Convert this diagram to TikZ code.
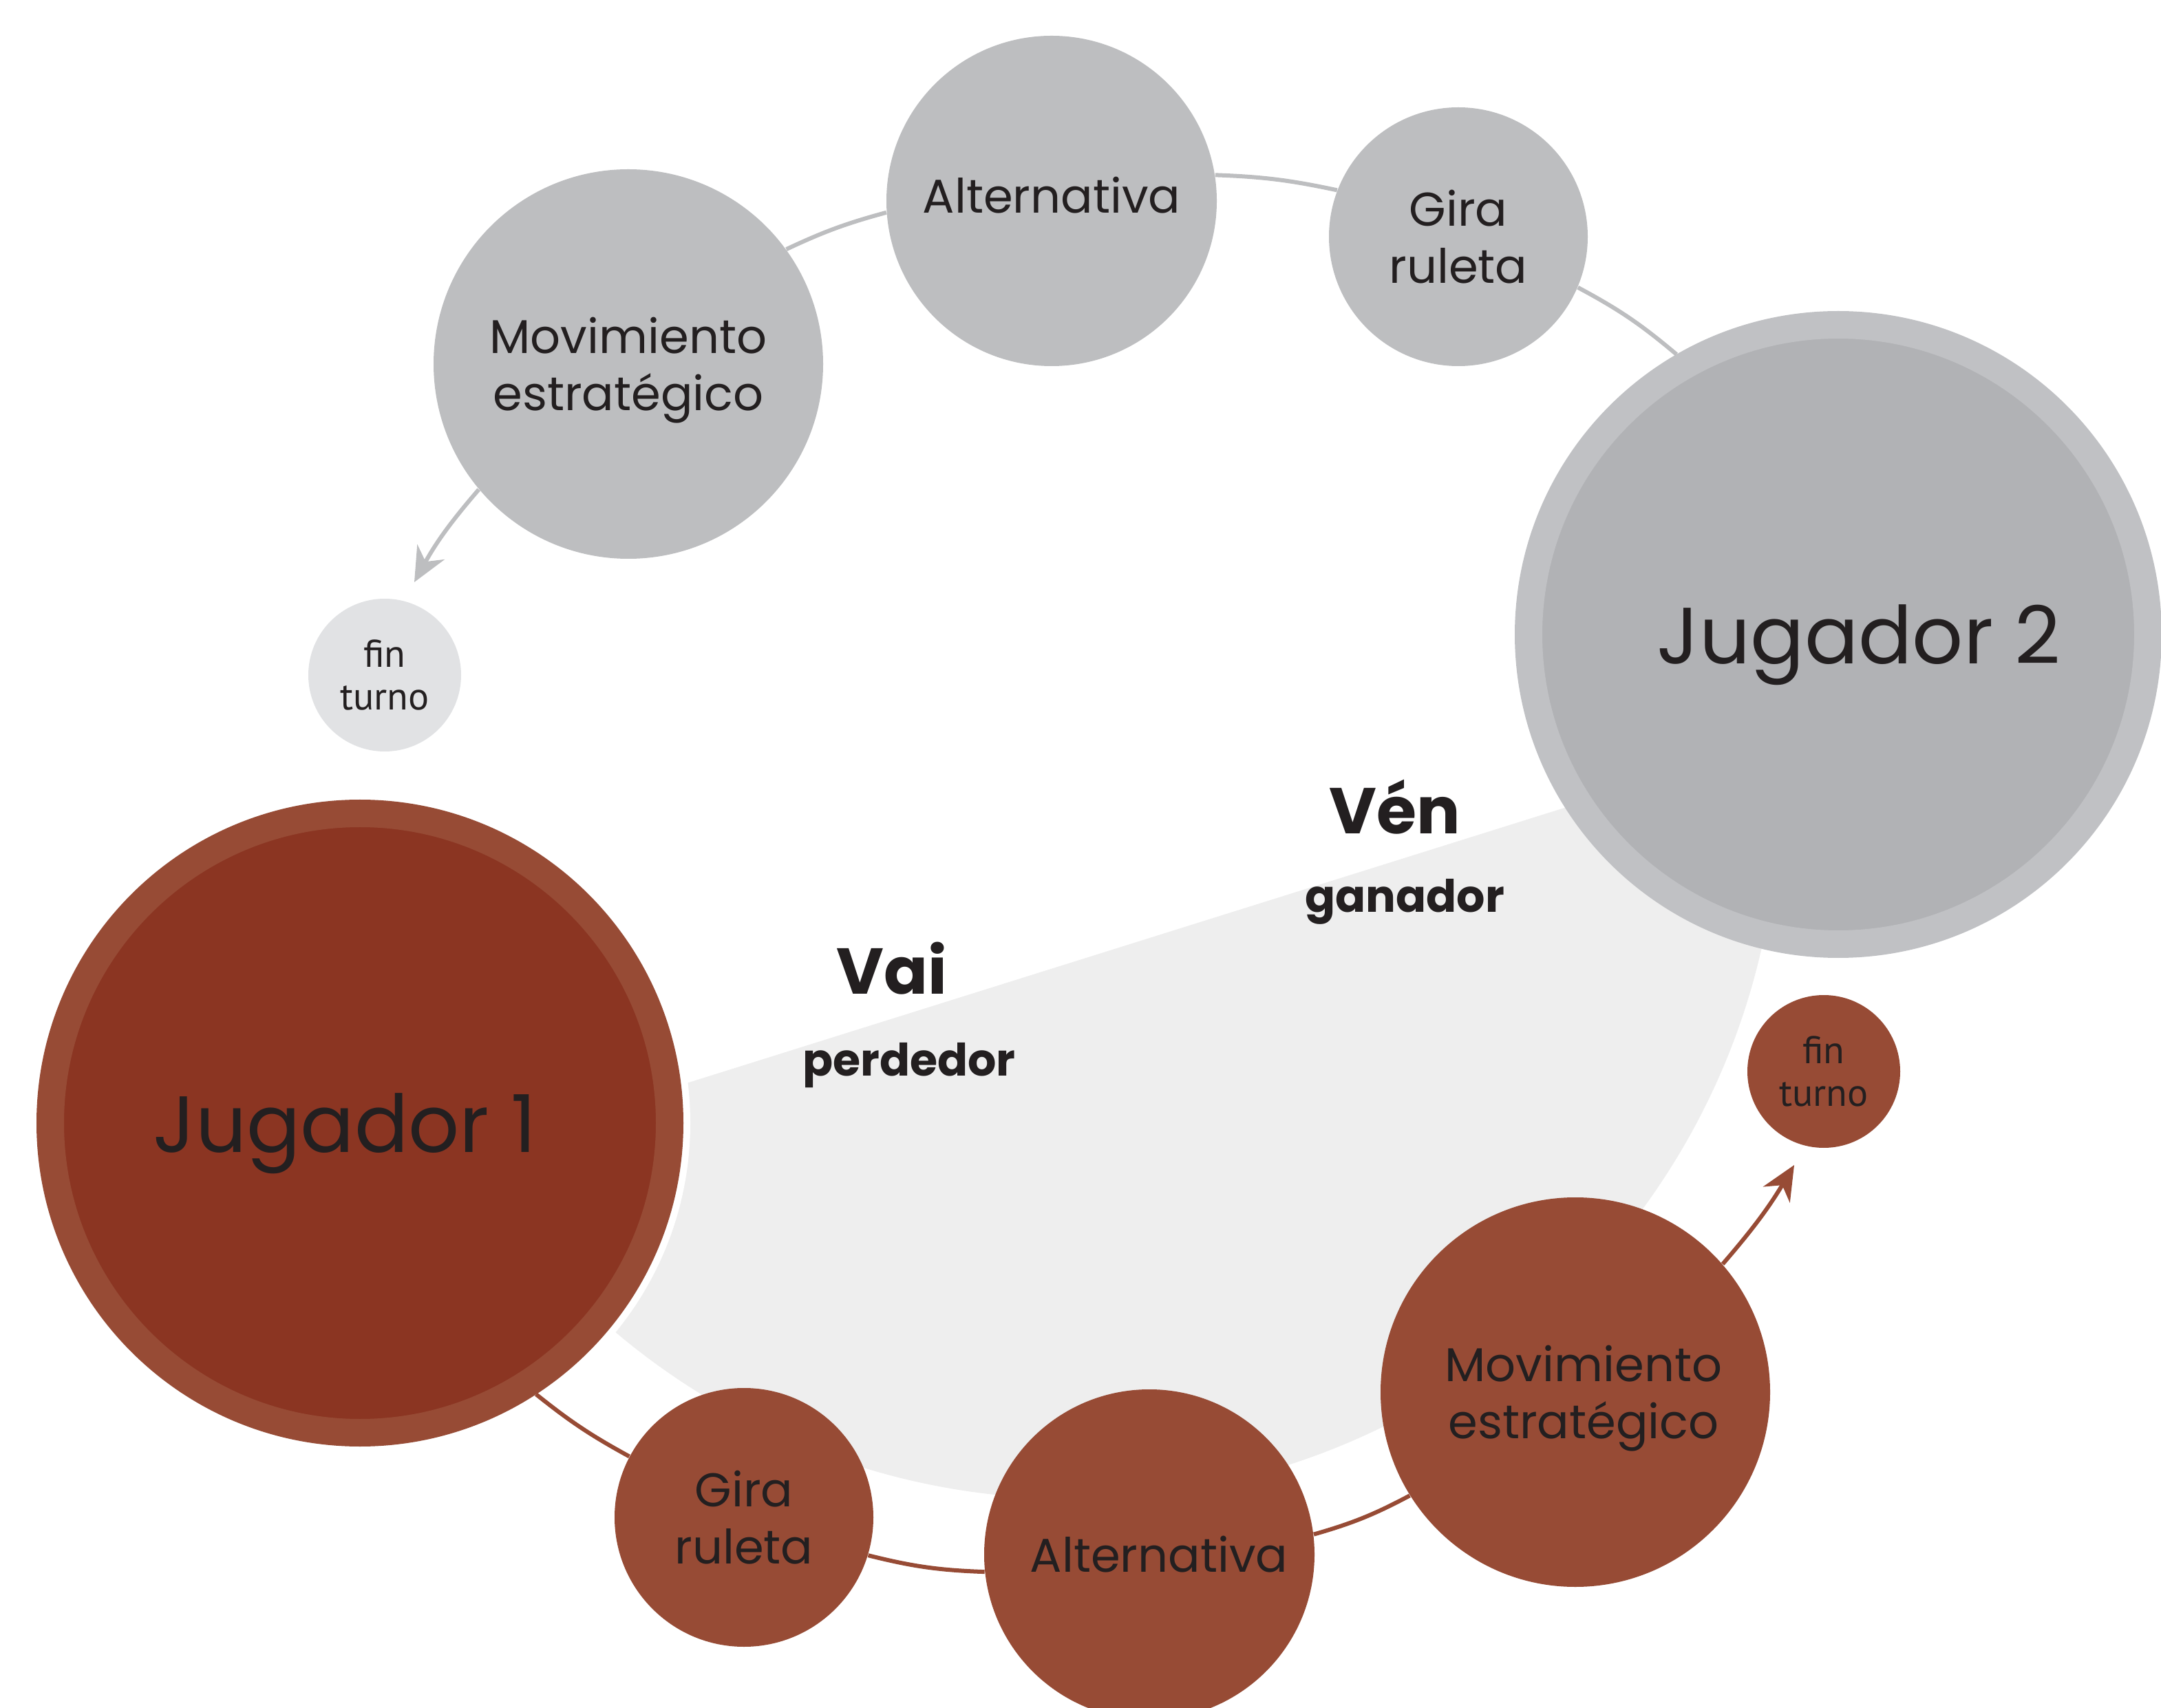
\documentclass[tikz,border=0pt]{standalone}
\usepackage{fontspec}
\setmainfont{Poppins}
\newfontfamily\finfont{PT Sans}
\usetikzlibrary{arrows.meta}

\definecolor{tinta}{HTML}{231F20}
\definecolor{grisbola}{HTML}{BDBEC0}
\definecolor{grisaro}{HTML}{C0C1C4}
\definecolor{grisfondo}{HTML}{B1B2B5}
\definecolor{grisfin}{HTML}{E1E2E4}
\definecolor{tejabola}{HTML}{974B35}
\definecolor{tejafondo}{HTML}{8B3522}
\definecolor{zona}{HTML}{EEEEEE}

\tikzset{
  bola/.style={circle, inner sep=0pt, align=center, text=tinta,
    font=\fontsize{19.6}{23.6}\selectfont},
  grande/.style={bola, minimum size=5.66cm, text depth=0pt},
  media/.style={bola, minimum size=4.8cm},
  chica/.style={bola, minimum size=3.76cm},
  fin/.style={bola, minimum size=2.22cm, font=\finfont\fontsize{16}{17.4}\selectfont},
  jugador/.style={bola, minimum size=9cm, line width=4mm, text depth=0pt,
    font=\fontsize{33}{40}\selectfont},
  enlace/.style={line width=0.6mm},
  punta/.style={-{Stealth[length=5mm,width=4.5mm,inset=1.6mm]}},
  titulo/.style={anchor=base, text=tinta, font=\bfseries\fontsize{26.8}{30}\selectfont},
  rol/.style={anchor=base, text=tinta, font=\bfseries\fontsize{18.5}{22}\selectfont}
}

\begin{document}
\begin{tikzpicture}
\useasboundingbox (0,0) rectangle (31.4,24.81);
\clip (0,0) rectangle (31.4,24.81);

\begin{scope}
\clip (0,5.94) -- (31.4,15.79) -- (31.4,0) -- (0,0) -- cycle;
\fill[zona] (15.57,13.31) circle (10.28);
\end{scope}

\node[jugador, draw=grisaro, fill=grisfondo] (j2) at (26.71,15.59) {\hspace*{6mm}Jugador 2};
\node[jugador, draw=tejabola, fill=tejafondo, preaction={draw=white, line width=6mm}] (j1) at (5.23,8.49) {\hspace*{-4.4mm}Jugador 1};

\node[grande, fill=grisbola] (movG) at (9.13,19.52) {Movimiento\\estratégico};
\node[media, fill=grisbola] (altG) at (15.28,21.89) {\raisebox{1.7mm}{Alternativa}};
\node[chica, fill=grisbola] (giraG) at (21.19,21.37) {Gira\\ruleta};
\node[fin, fill=grisfin] (finG) at (5.59,15.00) {fin\\turno};
\coordinate (finGtip) at (6.02,16.35);

\node[chica, fill=tejabola] (giraB) at (10.81,2.76) {Gira\\ruleta};
\node[media, fill=tejabola] (altB) at (16.70,2.22) {\hspace*{2.8mm}Alternativa};
\node[grande, fill=tejabola] (movB) at (22.89,4.58) {\hspace*{2.4mm}Movimiento\\\hspace*{2.4mm}estratégico};
\node[fin, fill=tejabola] (finB) at (26.50,9.24) {fin\\turno};
\coordinate (finBtip) at (26.07,7.88);

\draw[enlace, grisbola] (j2.120) to[bend right=6] (giraG.-23);
\draw[enlace, grisbola] (giraG.159) to[bend right=5] (altG.9);
\draw[enlace, grisbola] (altG.184) to[bend right=5] (movG.36);
\draw[enlace, grisbola, punta] (movG.220) to[bend right=6] (finGtip);

\draw[enlace, tejabola] (j1.-57) to[bend right=5] (giraB.152);
\draw[enlace, tejabola] (giraB.-17) to[bend right=6] (altB.186);
\draw[enlace, tejabola] (altB.7) to[bend right=6] (movB.212);
\draw[enlace, tejabola, punta] (movB.41) to[bend right=5] (finBtip);

\node[titulo] (vai) at (12.96,10.37) {Vai};
\node[rol] (perdedor) at (13.21,9.18) {perdedor};
\node[titulo] (ven) at (20.27,12.69) {Vén};
\node[rol] (ganador) at (20.41,11.55) {ganador};
\end{tikzpicture}
\end{document}
